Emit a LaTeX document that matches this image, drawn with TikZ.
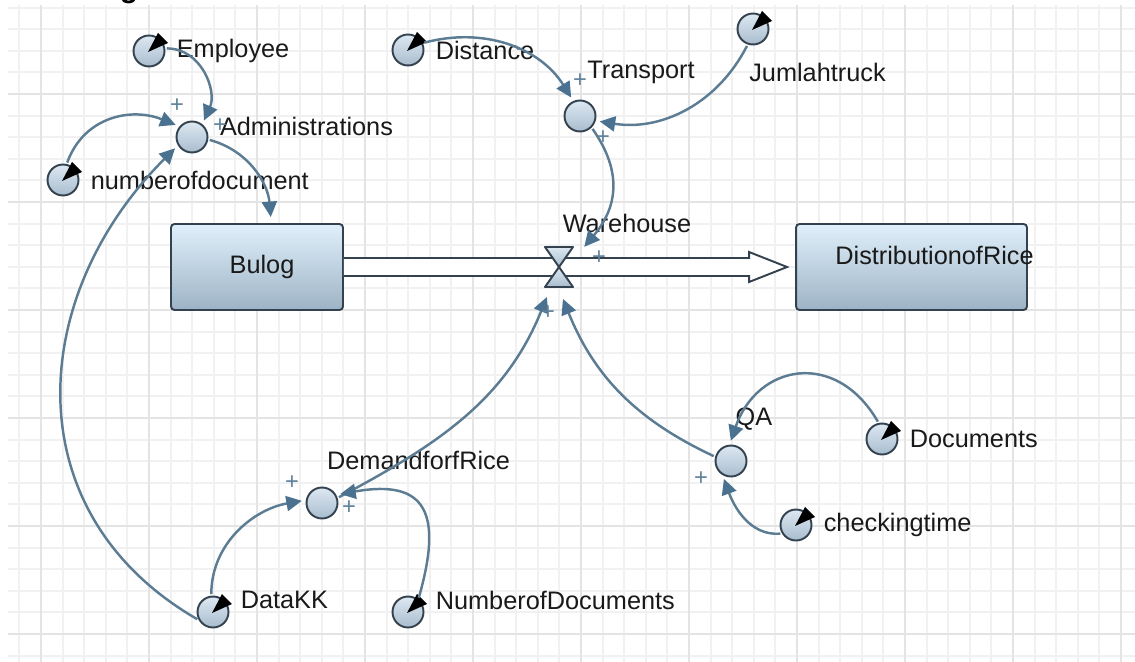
\documentclass[tikz,border=0pt]{standalone}
\usepackage{fontspec}
\setmainfont{Liberation Sans}
\usepackage{tikz}
\usetikzlibrary{arrows.meta,positioning,calc}

\definecolor{gridminor}{HTML}{F1F1F1}
\definecolor{gridmajor}{HTML}{E4E4E4}
\definecolor{edgedark}{HTML}{33424E}
\definecolor{linkline}{HTML}{5C7C93}
\definecolor{linkhead}{HTML}{4A7290}
\definecolor{plusblue}{HTML}{5F8199}
\definecolor{convtop}{HTML}{DDE8F2}
\definecolor{convbot}{HTML}{A9BDCE}
\definecolor{stocktop}{HTML}{E0F0FB}
\definecolor{stockbot}{HTML}{9DB3C5}

\tikzset{
    conv/.style={circle, draw=edgedark, line width=1.1pt, minimum size=0.62cm, inner sep=0pt, top color=convtop, bottom color=convbot},
    stockbox/.style={draw=edgedark, line width=1.1pt, rounded corners=2pt, minimum height=1.72cm, inner sep=0pt, top color=stocktop, bottom color=stockbot},
    valvepart/.style={draw=edgedark, line width=1.1pt, line join=round, top color=convtop, bottom color=convbot},
    lbl/.style={font=\fontsize{14.4}{17}\selectfont, text=black!90, inner sep=0pt},
    plussign/.style={font=\fontsize{13.5}{16}\selectfont, text=plusblue, inner sep=0pt},
    link/.style={draw=linkline, line width=1.4pt, shorten >=0.08cm, shorten <=0.03cm, -{Triangle[length=0.31cm,width=0.3cm,color=linkhead]}}
}

\begin{document}
\begin{tikzpicture}[x=0.02cm, y=-0.02cm]
    \useasboundingbox (0,0) rectangle (1135,662);

    % Grid paper
    \foreach \gx in {19.4,41,...,1135} \draw[gridminor, line width=1.1pt] (\gx,5) -- (\gx,662);
    \foreach \gy in {7.6,29.2,...,662} \draw[gridminor, line width=1.1pt] (8,\gy) -- (1135,\gy);
    \foreach \gx in {41,149,...,1135} \draw[gridmajor, line width=1.1pt] (\gx,5) -- (\gx,662);
    \foreach \gy in {94,202,...,662} \draw[gridmajor, line width=1.1pt] (8,\gy) -- (1135,\gy);

    % Heading cut by the page edge
    \node[font=\fontsize{17}{20}\bfseries\selectfont, anchor=base, inner sep=0pt] (headtxt) at (129,-2) {g};

    % Stocks
    \node[stockbox, minimum width=3.44cm] (bulog) at (257,267) {};
    \node[stockbox, minimum width=4.62cm] (rice) at (911.5,267) {};
    \node[lbl] (bulogtxt) at (262,267) {Bulog};
    \node[lbl] (ricetxt) at (934.5,255) {DistributionofRice};

    % Flow pipe with its valve on top
    \draw[draw=edgedark, line width=1.1pt, fill=white, line join=miter]
        ($(bulog.east)+(0,-9)$) -- ($(rice.west)+(-46,-9)$) -- ($(rice.west)+(-46,-15)$)
        -- ($(rice.west)+(-8,0)$) -- ($(rice.west)+(-46,15)$) -- ($(rice.west)+(-46,9)$)
        -- ($(bulog.east)+(0,9)$);
    \node[circle, minimum size=1.12cm, inner sep=0pt] (valve) at (559,267) {};
    \draw[valvepart, shift={(valve.center)}] (-14,-20) -- (14,-20) -- (0,0) -- cycle;
    \draw[valvepart, shift={(valve.center)}] (-14,20) -- (14,20) -- (0,0) -- cycle;
    \node[lbl] (valvetxt) at (627,223) {Warehouse};

    % Auxiliaries
    \node[conv] (admin) at (192,137) {};
    \node[conv] (transport) at (580,116) {};
    \node[conv] (demand) at (322,503) {};
    \node[conv] (qa) at (731,461) {};
    \node[lbl] (admintxt) at (306.5,126) {Administrations};
    \node[lbl] (transporttxt) at (641,72) {Transport};
    \node[lbl] (demandtxt) at (418.5,460) {DemandforfRice};
    \node[lbl] (qatxt) at (754,419) {QA};

    % Inputs with a dial
    \node[conv] (employee) at (149,51) {};
    \node[conv] (numdoc) at (63,180) {};
    \node[conv] (distance) at (408,50) {};
    \node[conv] (truck) at (753,29) {};
    \node[conv] (documents) at (882,439) {};
    \node[conv] (checking) at (796,525) {};
    \node[conv] (datakk) at (213,612) {};
    \node[conv] (numdocs) at (408,612) {};
    \foreach \n in {employee,numdoc,distance,truck,documents,checking,datakk,numdocs}
        \fill[black, shift={(\n.center)}] (-1,1) -- (9,-18) -- (19,-8) -- cycle;

    \node[lbl, right=0.22cm of employee] (employeetxt) {Employee};
    \node[lbl, right=0.22cm of numdoc] (numdoctxt) {numberofdocument};
    \node[lbl, right=0.22cm of distance] (distancetxt) {Distance};
    \node[lbl] (trucktxt) at (817.5,72) {Jumlahtruck};
    \node[lbl, right=0.22cm of documents] (documentstxt) {Documents};
    \node[lbl, right=0.22cm of checking] (checkingtxt) {checkingtime};
    \node[lbl, right=0.22cm of datakk, yshift=0.24cm] (datakktxt) {DataKK};
    \node[lbl, right=0.22cm of numdocs, yshift=0.24cm] (numdocstxt) {NumberofDocuments};

    % Links
    \draw[link] (employee.9) to[out=0, in=66, looseness=1.1] (admin.51);
    \draw[link] (numdoc.77) to[out=70, in=158, looseness=1.1] (admin.140);
    \draw[link] (datakk.209) to[out=150, in=225, looseness=1.15] (admin.211);
    \draw[link, shorten >=0.12cm] (admin.-9) to[out=-15, in=95] (bulog.72);
    \draw[link] (distance.25) to[out=15, in=122] (transport.114);
    \draw[link] (truck.251) to[out=243, in=-9] (transport.-17);
    \draw[link] (transport.-45) to[out=-55, in=50, looseness=1.15] (valve.37);
    \draw[link] (demand.18) to[out=28, in=-112] (valve.248);
    \draw[link] (qa.165) to[out=155, in=-68] (valve.-85);
    \draw[link] (documents.102) to[out=120, in=71, looseness=1.45] (qa.95);
    \draw[link] (checking.211) to[out=185, in=-70] (qa.239);
    \draw[link] (datakk.96) to[out=90, in=190] (demand.170);
    \draw[link] (numdocs.51) to[out=74, in=10, looseness=1.75] (demand.30);

    % Polarity marks
    \foreach \px/\py [count=\i] in {177/106,220/126,580/81,603/138,599/258,548/313,292/483,349/508,701/479}
        \node[plussign] (plus\i) at (\px,\py) {+};
\end{tikzpicture}
\end{document}
